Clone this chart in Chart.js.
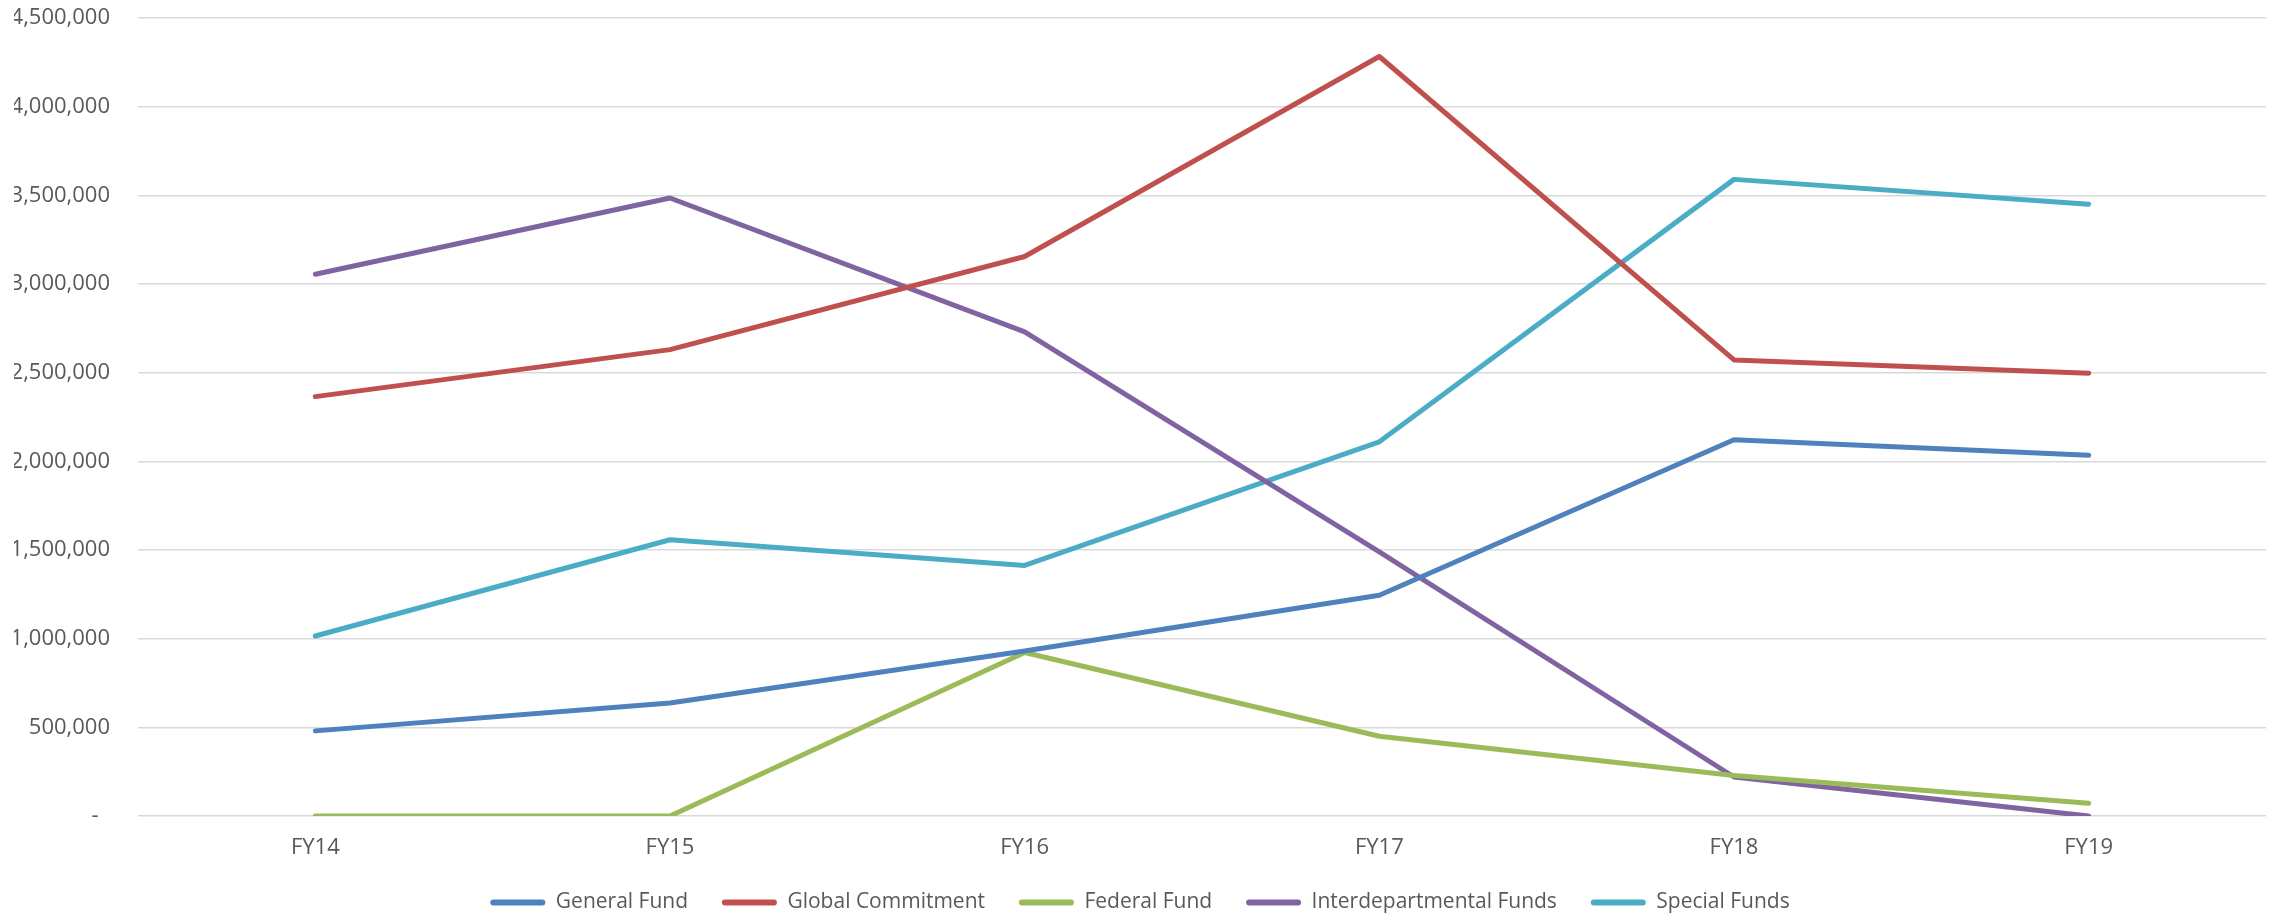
<!DOCTYPE html>
<html>
<head>
<meta charset="utf-8">
<script src="https://cdn.jsdelivr.net/npm/chart.js@4.4.1/dist/chart.umd.min.js"></script>
<style>
    html, body { margin: 0; padding: 0; background: #ffffff; }
    #wrap { width: 2275px; height: 916px; position: relative; }
</style>
</head>
<body>
<div id="wrap"><canvas id="fundChart"></canvas></div>
<script>
// Data dibaca dari gambar referensi
const years = ['FY14', 'FY15', 'FY16', 'FY17', 'FY18', 'FY19'];
const generalFund = [480000, 637000, 930000, 1245000, 2122000, 2034000];
const globalCommitment = [2365000, 2630000, 3155000, 4283000, 2572000, 2497000];
const federalFund = [0, 0, 922000, 450000, 228000, 72000];
const interdepartmentalFunds = [3055000, 3485000, 2730000, 1490000, 220000, 0];
const specialFunds = [1015000, 1558000, 1413000, 2110000, 3590000, 3450000];
const yTicks = [0, 500000, 1000000, 1500000, 2000000, 2500000, 3000000, 3500000, 4000000, 4500000];

const fontFamily = '"Open Sans", "Liberation Sans", sans-serif';
const textColor = '#595959';

function makeLine(label, data, color) {
    return {
        label: label,
        data: data,
        borderColor: color,
        backgroundColor: color,
        borderWidth: 5,
        borderCapStyle: 'round',
        borderJoinStyle: 'round',
        pointRadius: 0,
        pointHoverRadius: 0,
        tension: 0,
        fill: false
    };
}

document.addEventListener('DOMContentLoaded', () => {
    const canvas = document.getElementById('fundChart');

    new Chart(canvas.getContext('2d'), {
        type: 'line',
        data: {
            labels: years,
            datasets: [
                makeLine('General Fund', generalFund, '#4F81BD'),
                makeLine('Global Commitment', globalCommitment, '#C0504D'),
                makeLine('Federal Fund', federalFund, '#9BBB59'),
                makeLine('Interdepartmental Funds', interdepartmentalFunds, '#8064A2'),
                makeLine('Special Funds', specialFunds, '#4BACC6')
            ]
        },
        options: {
            responsive: true,
            maintainAspectRatio: false,
            animation: false,
            layout: {
                padding: { top: 18, right: 9, left: 14, bottom: -7 }
            },
            plugins: {
                legend: {
                    position: 'bottom',
                    labels: {
                        color: textColor,
                        font: { family: fontFamily, size: 21 },
                        boxWidth: 55,
                        boxHeight: 6,
                        padding: 23,
                        generateLabels: function (chart) {
                            const items = Chart.defaults.plugins.legend.labels.generateLabels(chart);
                            items.forEach((item, i) => {
                                item.lineWidth = 0;
                                item.fillStyle = item.strokeStyle;
                                item.borderRadius = 3;
                                // jarak antar item legenda seperti di Excel
                                if (i < items.length - 1) {
                                    item.text = item.text + '\u00a0'.repeat(2);
                                }
                            });
                            return items;
                        }
                    }
                },
                tooltip: { enabled: false }
            },
            scales: {
                x: {
                    offset: true,
                    grid: { display: false, drawTicks: false },
                    border: { display: false },
                    ticks: {
                        color: textColor,
                        font: { family: fontFamily, size: 22 },
                        padding: 19
                    },
                    afterFit: function (axis) {
                        axis.height = 53;
                    }
                },
                y: {
                    min: 0,
                    max: 4500000,
                    grid: { color: '#d9d9d9', lineWidth: 1.5, drawTicks: false },
                    border: { display: false },
                    afterBuildTicks: function (axis) {
                        axis.ticks = yTicks.map(v => ({ value: v }));
                    },
                    afterFit: function (axis) {
                        axis.width = 124;
                        axis.paddingTop = 13;
                        axis.paddingBottom = 13;
                    },
                    ticks: {
                        color: textColor,
                        font: { family: fontFamily, size: 22 },
                        padding: 28,
                        callback: function (value) {
                            if (value === 0) {
                                return '-  ';
                            }
                            return value.toLocaleString('en-US');
                        }
                    }
                }
            }
        }
    });
});
</script>
</body>
</html>
